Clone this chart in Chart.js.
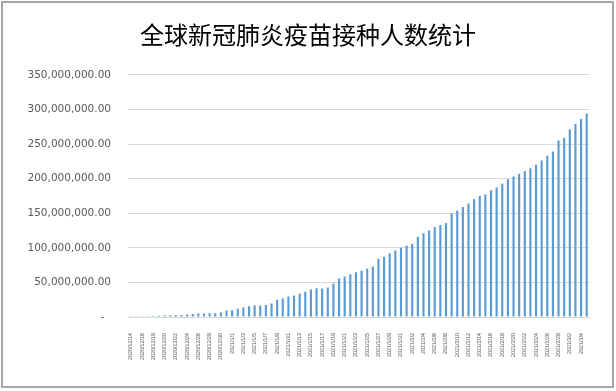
<!DOCTYPE html>
<html>
<head>
<meta charset="utf-8">
<script src="https://cdn.jsdelivr.net/npm/chart.js@4"></script>
<style>
  body { margin: 0; background: #fff; }
  #wrap { position: relative; width: 616px; height: 391px; }
  #frame {
    position: absolute; left: 1px; top: 1px;
    width: 609px; height: 383px;
    border: 2px solid #a6a6a6;
    pointer-events: none;
  }
</style>
</head>
<body>
<div id="wrap">
  <canvas id="vaccine-chart" width="616" height="391"></canvas>
  <div id="frame"></div>
</div>
<script>
const chartTitle = "全球新冠肺炎疫苗接种人数统计";

// дати (щодня, 2020/12/14 - 2021/3/5)
const dates = [
  "2020/12/14", "2020/12/15", "2020/12/16", "2020/12/17", "2020/12/18", "2020/12/19",
  "2020/12/20", "2020/12/21", "2020/12/22", "2020/12/23", "2020/12/24", "2020/12/25",
  "2020/12/26", "2020/12/27", "2020/12/28", "2020/12/29", "2020/12/30", "2020/12/31",
  "2021/1/1", "2021/1/2", "2021/1/3", "2021/1/4", "2021/1/5", "2021/1/6", "2021/1/7",
  "2021/1/8", "2021/1/9", "2021/1/10", "2021/1/11", "2021/1/12", "2021/1/13", "2021/1/14",
  "2021/1/15", "2021/1/16", "2021/1/17", "2021/1/18", "2021/1/19", "2021/1/20", "2021/1/21",
  "2021/1/22", "2021/1/23", "2021/1/24", "2021/1/25", "2021/1/26", "2021/1/27", "2021/1/28",
  "2021/1/29", "2021/1/30", "2021/1/31", "2021/2/1", "2021/2/2", "2021/2/3", "2021/2/4",
  "2021/2/5", "2021/2/6", "2021/2/7", "2021/2/8", "2021/2/9", "2021/2/10", "2021/2/11",
  "2021/2/12", "2021/2/13", "2021/2/14", "2021/2/15", "2021/2/16", "2021/2/17", "2021/2/18",
  "2021/2/19", "2021/2/20", "2021/2/21", "2021/2/22", "2021/2/23", "2021/2/24", "2021/2/25",
  "2021/2/26", "2021/2/27", "2021/2/28", "2021/3/1", "2021/3/2", "2021/3/3", "2021/3/4",
  "2021/3/5"
];

// кількість щеплених, мільйони
const vaccinatedMillions = [
  0.3, 0.5, 1, 1.2, 1.5, 1.8, 2, 2.5, 3, 3, 3.5, 4.5, 5, 5.2, 5.5, 5.5, 6.5, 9.5,
  9.8, 12, 13.6, 15.5, 16.5, 16.7, 17.5, 19.4, 25, 26.7, 29.6, 31, 34, 36.4, 39.8,
  41.7, 41.3, 42.7, 48.5, 55.8, 58.7, 61.7, 64.6, 67, 70, 73, 84, 87, 92, 96, 100,
  103, 106, 116, 121, 125, 130, 133, 136, 150, 154, 159, 164, 170, 175, 177, 183,
  187, 193, 199, 203, 207, 211, 215, 220, 226, 233, 239, 255, 259, 271, 279, 286, 294
];

const yMax = 350000000;
const yStep = 50000000;

const vaccinated = vaccinatedMillions.map(v => v * 1000000);

const ctx = document.getElementById("vaccine-chart").getContext("2d");

const vaccineChart = new Chart(ctx, {
  type: "bar",
  data: {
    labels: dates,
    datasets: [
      {
        label: chartTitle,
        data: vaccinated,
        backgroundColor: "#5b9bd5",
        borderWidth: 0,
        categoryPercentage: 1,
        barPercentage: 0.38
      }
    ]
  },
  options: {
    responsive: false,
    animation: false,
    layout: {
      // симетрично, щоб заголовок був по центру
      padding: { top: 0, right: 13, bottom: 0, left: 13 }
    },
    plugins: {
      legend: { display: false },
      tooltip: { enabled: false },
      title: {
        display: true,
        text: chartTitle,
        color: "#000",
        font: { family: "'Noto Sans CJK SC'", size: 24, weight: "normal" },
        padding: { top: 20, bottom: 26 }
      }
    },
    scales: {
      x: {
        grid: { display: false, drawTicks: false },
        border: { display: true, color: "#d9d9d9" },
        ticks: {
          autoSkip: false,
          minRotation: 90,
          maxRotation: 90,
          padding: 16,
          color: "#595959",
          font: { family: "'Liberation Sans'", size: 5.4 },
          callback: function (value, index) {
            return index % 2 === 0 ? dates[index] : "";
          }
        },
        afterFit: function (scale) {
          scale.height = 74;
        }
      },
      y: {
        min: 0,
        max: yMax,
        grid: { color: "#d9d9d9", drawTicks: false },
        border: { display: false },
        ticks: {
          stepSize: yStep,
          padding: 17,
          color: "#595959",
          font: { family: "'DejaVu Sans'", size: 10.5 },
          callback: function (value) {
            if (value === 0) return "-  ";
            return value.toLocaleString("en-US", { minimumFractionDigits: 2, maximumFractionDigits: 2 });
          }
        },
        afterFit: function (scale) {
          scale.width = 115;
        }
      },
      // порожня вісь справа - лише відступ
      yPad: {
        position: "right",
        display: true,
        grid: { display: false, drawTicks: false },
        border: { display: false },
        ticks: { display: false },
        afterFit: function (scale) {
          scale.width = 13.5;
        }
      }
    }
  }
});
</script>
</body>
</html>
